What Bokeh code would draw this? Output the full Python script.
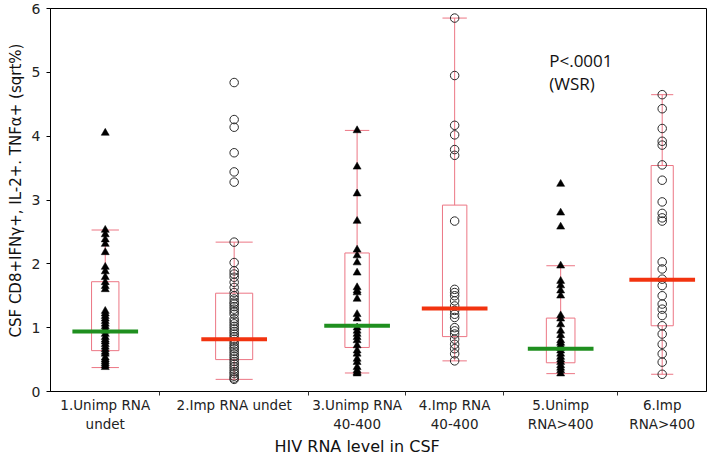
import numpy as np
from bokeh.plotting import figure
from bokeh.models import Range1d, FixedTicker, CustomJSTickFormatter, Title
from bokeh.core.properties import value
from bokeh.embed import file_html
from bokeh.resources import INLINE

# ---- data ----
group_labels = ["1.Unimp RNA\nundet", "2.Imp RNA undet", "3.Unimp RNA\n40-400",
                "4.Imp RNA\n40-400", "5.Unimp\nRNA>400", "6.Imp\nRNA>400"]
# relative group widths (JMP style: proportional to group size)
group_share = [1.10, 1.49, 0.98, 0.98, 1.15, 0.89]
improved = [False, True, False, True, False, True]

g1 = [4.05, 2.53, 2.46, 2.38, 2.31, 2.18, 1.95, 1.88, 1.79, 1.71, 1.65, 1.60,
      1.26, 1.22, 1.18, 1.14, 1.10, 1.06, 1.02, 0.98, 0.95, 0.90, 0.85, 0.81,
      0.78, 0.74, 0.70, 0.66, 0.62, 0.59, 0.53, 0.50, 0.47, 0.44, 0.41, 0.38]
g2 = [4.84, 4.26, 4.14, 3.74, 3.44, 3.28, 2.34, 2.02, 1.89, 1.84, 1.79, 1.71,
      1.63, 1.55, 1.50, 1.45, 1.40, 1.37, 1.33, 1.29, 1.25, 1.21, 1.14, 1.10,
      1.06, 1.02, 0.98, 0.94, 0.90, 0.86, 0.82, 0.78, 0.74, 0.70, 0.67, 0.63,
      0.59, 0.55, 0.51, 0.47, 0.43, 0.39, 0.35, 0.31, 0.28, 0.24, 0.21, 0.19]
g3 = [4.09, 3.52, 3.10, 2.67, 2.22, 2.13, 2.02, 1.86, 1.63, 1.58, 1.55, 1.45,
      1.21, 1.14, 1.00, 0.95, 0.90, 0.85, 0.80, 0.72, 0.64, 0.59, 0.51, 0.46,
      0.38, 0.33, 0.30, 0.28]
g4 = [5.85, 4.95, 4.17, 4.02, 3.79, 3.70, 2.67, 1.60, 1.55, 1.50, 1.42, 1.34,
      1.27, 1.21, 1.16, 1.00, 0.95, 0.90, 0.82, 0.74, 0.67, 0.59, 0.48]
g5 = [3.25, 2.80, 2.58, 1.97, 1.73, 1.66, 1.58, 1.50, 1.19, 1.14, 1.05, 0.95,
      0.88, 0.80, 0.76, 0.72, 0.68, 0.64, 0.59, 0.54, 0.50, 0.46, 0.41, 0.37,
      0.33, 0.28]
g6 = [4.65, 4.43, 4.12, 3.92, 3.86, 3.55, 3.31, 2.97, 2.79, 2.72, 2.67, 2.03,
      1.92, 1.76, 1.66, 1.50, 1.37, 1.29, 1.19, 1.03, 0.90, 0.74, 0.59, 0.46,
      0.27]
groups = [g1, g2, g3, g4, g5, g6]

q1 = [0.64, 0.50, 0.69, 0.86, 0.45, 1.03]
median = [0.94, 0.82, 1.03, 1.30, 0.67, 1.75]
q3 = [1.72, 1.54, 2.17, 2.92, 1.15, 3.54]
whisker_lo = [0.375, 0.19, 0.29, 0.48, 0.28, 0.27]
whisker_hi = [2.53, 2.34, 4.09, 5.85, 1.97, 4.65]

y_ticks = [0, 1, 2, 3, 4, 5, 6]
note_lines = ["P<.0001", "(WSR)"]
y_title = "CSF CD8+IFN\u03b3+, IL-2+. TNF\u03b1+ (sqrt%)"
x_title = "HIV RNA level in CSF"

# ---- layout ----
edges = np.concatenate([[0.0], np.cumsum(group_share)])
centers = (edges[:-1] + edges[1:]) / 2
widths = np.array(group_share)

BOX = "#EC7684"
GREEN = "#1F8F1F"
RED = "#F2330F"
FONT = "DejaVu Sans"

p = figure(width=709, height=456, x_range=Range1d(0, edges[-1]), y_range=Range1d(0, 6),
           output_backend="svg", toolbar_location=None,
           min_border_left=47, min_border_right=3, min_border_top=8, min_border_bottom=65)
p.grid.visible = False
p.outline_line_color = "black"
p.outline_line_width = 1
p.background_fill_color = "white"
p.border_fill_color = "white"

# y axis
p.yaxis.ticker = FixedTicker(ticks=y_ticks, minor_ticks=[])
p.yaxis.major_label_text_font = FONT
p.yaxis.major_label_text_font_size = "14px"
p.yaxis.major_label_text_color = "#222222"
p.yaxis.major_label_standoff = 6
p.yaxis.major_tick_out = 4
p.yaxis.major_tick_in = 0
p.yaxis.axis_line_color = "black"
p.yaxis.major_tick_line_color = "black"

# x axis
p.xaxis.ticker = FixedTicker(ticks=list(centers), minor_ticks=list(edges[1:-1]))
p.xaxis.formatter = CustomJSTickFormatter(
    args=dict(c=list(centers), l=group_labels),
    code="""
    let best = 0, d = 1e9;
    for (let i = 0; i < c.length; i++) {
        const dd = Math.abs(c[i] - tick);
        if (dd < d) { d = dd; best = i; }
    }
    return l[best];
    """)
p.xaxis.major_tick_out = 0
p.xaxis.major_tick_in = 0
p.xaxis.minor_tick_out = 4
p.xaxis.minor_tick_in = 0
p.xaxis.minor_tick_line_color = "#333333"
p.xaxis.axis_line_color = "black"
p.xaxis.major_label_text_font = FONT
p.xaxis.major_label_text_font_size = "13.5px"
p.xaxis.major_label_text_color = "#222222"
p.xaxis.major_label_standoff = 1

# axis titles (placed off-centre like the reference)
xt = Title(text=x_title, align="left", offset=224, standoff=0,
           text_font=FONT, text_font_style="normal", text_font_size="16px",
           text_color="#111111")
p.add_layout(xt, "below")
yt = Title(text=y_title, align="left", offset=54, standoff=8,
           text_font=FONT, text_font_style="normal", text_font_size="15px",
           text_color="#111111")
p.add_layout(yt, "left")

# boxes
bw = 0.25 * widths
p.quad(left=centers - bw / 2, right=centers + bw / 2, bottom=q1, top=q3,
       fill_alpha=0, line_color=BOX, line_width=1)
# whiskers
p.segment(x0=centers, x1=centers, y0=q3, y1=whisker_hi, line_color=BOX, line_width=1)
p.segment(x0=centers, x1=centers, y0=whisker_lo, y1=q1, line_color=BOX, line_width=1)
# caps
p.segment(x0=centers - bw / 2, x1=centers + bw / 2, y0=whisker_hi, y1=whisker_hi,
          line_color=BOX, line_width=1)
p.segment(x0=centers - bw / 2, x1=centers + bw / 2, y0=whisker_lo, y1=whisker_lo,
          line_color=BOX, line_width=1)

# points
for i, vals in enumerate(groups):
    xs = [centers[i]] * len(vals)
    if improved[i]:
        p.scatter(xs, vals, marker="circle", size=8.5, fill_alpha=0,
                  line_color="#2a2a2a", line_width=1)
    else:
        p.scatter(xs, vals, marker="triangle", size=8, fill_color="black",
                  line_color="black", line_width=0.5)

# medians
mcol = [RED if imp else GREEN for imp in improved]
half = 0.33
p.segment(x0=centers - half, x1=centers + half, y0=median, y1=median,
          line_color=mcol, line_width=4)

# annotation
p.text(x=[5.01, 5.01], y=[5.19, 4.83], text=note_lines, text_font=value("Open Sans"),
       text_font_size="17px", text_align="left", text_baseline="middle",
       text_color="#111111")

open("out.html", "w").write(file_html(p, INLINE))
